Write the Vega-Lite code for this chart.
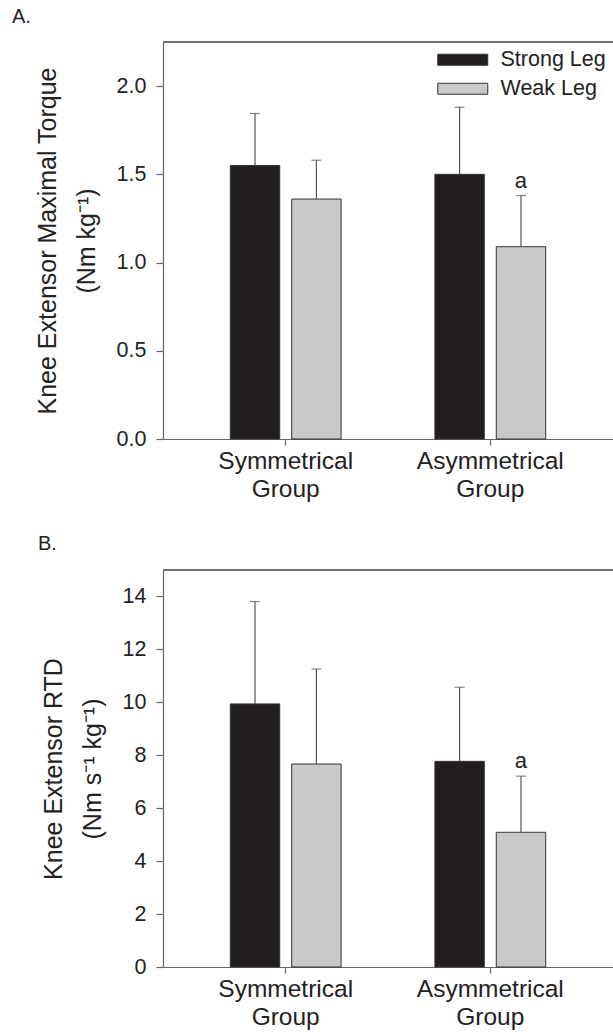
{
  "$schema": "https://vega.github.io/schema/vega-lite/v6.json",
  "background": "white",
  "padding": {"left": 12, "top": 7, "right": 0, "bottom": 4},
  "bounds": "flush",
  "spacing": 131,
  "config": {
    "font": "Liberation Sans",
    "view": {"stroke": null},
    "axis": {"domainColor": "#666666", "tickColor": "#666666", "labelColor": "#222222", "titleColor": "#222222", "labelFont": "Liberation Sans", "titleFont": "Liberation Sans", "grid": false, "titleFontWeight": "normal", "domainWidth": 1.2, "tickWidth": 1.2},
    "title": {"font": "Liberation Sans", "fontSize": 20, "fontWeight": "normal", "color": "#222222", "anchor": "start", "frame": "group", "baseline": "alphabetic"},
    "legend": {"labelFont": "Liberation Sans"}
  },
  "vconcat": [
    {
      "title": {"text": "A.", "dx": -151, "offset": 14},
      "width": 450,
      "height": 397,
      "data": {"values": [
        {"group": "Symmetrical Group", "leg": "Strong Leg", "mean": 1.55, "upper": 1.845, "note": ""},
        {"group": "Symmetrical Group", "leg": "Weak Leg", "mean": 1.36, "upper": 1.58, "note": ""},
        {"group": "Asymmetrical Group", "leg": "Strong Leg", "mean": 1.5, "upper": 1.88, "note": ""},
        {"group": "Asymmetrical Group", "leg": "Weak Leg", "mean": 1.09, "upper": 1.38, "note": "a"}
      ]},
      "layer": [
        {
          "mark": {"type": "rule", "color": "#666666", "strokeWidth": 1.2},
          "encoding": {"y": {"datum": 2.25, "type": "quantitative"}}
        },
        {
          "mark": {"type": "bar", "stroke": "#333333", "strokeWidth": 1},
          "encoding": {
            "x": {"field": "group", "type": "nominal", "sort": ["Symmetrical Group", "Asymmetrical Group"], "scale": {"paddingInner": 0.4585, "paddingOuter": 0.329}, "axis": {"title": null, "labelExpr": "split(datum.value, ' ')", "labelAngle": 0, "labelFontSize": 24.5, "labelLineHeight": 28, "tickSize": 6, "labelPadding": 4}},
            "xOffset": {"field": "leg", "type": "nominal", "sort": ["Strong Leg", "Weak Leg"], "scale": {"paddingInner": 0.195, "paddingOuter": 0}},
            "y": {"field": "mean", "type": "quantitative", "scale": {"domain": [0, 2.25], "nice": false, "zero": true}, "axis": {"title": ["Knee Extensor Maximal Torque", "(Nm kg\u207b\u00b9)"], "values": [0, 0.5, 1, 1.5, 2], "format": ".1f", "labelFontSize": 21.5, "titleFontSize": 25, "titleLineHeight": 39, "tickSize": 7, "labelPadding": 10, "titlePadding": 17}},
            "color": {"field": "leg", "type": "nominal", "scale": {"domain": ["Strong Leg", "Weak Leg"], "range": ["#231f20", "#c8c9cb"]}, "legend": {"title": null, "orient": "none", "legendX": 289, "legendY": 7, "symbolType": "M-2.5,-0.55H2.5V0.55H-2.5Z", "symbolSize": 400, "symbolStrokeColor": "#333333", "symbolStrokeWidth": 1, "labelFontSize": 21.5, "labelColor": "#222222", "labelOffset": 27, "rowPadding": 6, "padding": 0}}
          }
        },
        {
          "mark": {"type": "rule", "color": "#555555", "strokeWidth": 1.2},
          "encoding": {
            "x": {"field": "group", "type": "nominal", "sort": ["Symmetrical Group", "Asymmetrical Group"]},
            "xOffset": {"field": "leg", "type": "nominal", "sort": ["Strong Leg", "Weak Leg"]},
            "y": {"field": "mean", "type": "quantitative"},
            "y2": {"field": "upper"}
          }
        },
        {
          "mark": {"type": "tick", "color": "#555555", "size": 10, "thickness": 1.2, "orient": "horizontal"},
          "encoding": {
            "x": {"field": "group", "type": "nominal", "sort": ["Symmetrical Group", "Asymmetrical Group"]},
            "xOffset": {"field": "leg", "type": "nominal", "sort": ["Strong Leg", "Weak Leg"]},
            "y": {"field": "upper", "type": "quantitative"}
          }
        },
        {
          "mark": {"type": "text", "fontSize": 22, "color": "#222222", "baseline": "alphabetic", "dy": -8, "font": "Liberation Sans"},
          "encoding": {
            "x": {"field": "group", "type": "nominal", "sort": ["Symmetrical Group", "Asymmetrical Group"]},
            "xOffset": {"field": "leg", "type": "nominal", "sort": ["Strong Leg", "Weak Leg"]},
            "y": {"field": "upper", "type": "quantitative"},
            "text": {"field": "note"}
          }
        }
      ]
    },
    {
      "title": {"text": "B.", "dx": -125, "offset": 15},
      "width": 450,
      "height": 397,
      "data": {"values": [
        {"group": "Symmetrical Group", "leg": "Strong Leg", "mean": 9.94, "upper": 13.81, "note": ""},
        {"group": "Symmetrical Group", "leg": "Weak Leg", "mean": 7.67, "upper": 11.26, "note": ""},
        {"group": "Asymmetrical Group", "leg": "Strong Leg", "mean": 7.77, "upper": 10.57, "note": ""},
        {"group": "Asymmetrical Group", "leg": "Weak Leg", "mean": 5.09, "upper": 7.21, "note": "a"}
      ]},
      "layer": [
        {
          "mark": {"type": "rule", "color": "#666666", "strokeWidth": 1.2},
          "encoding": {"y": {"datum": 15, "type": "quantitative"}}
        },
        {
          "mark": {"type": "bar", "stroke": "#333333", "strokeWidth": 1},
          "encoding": {
            "x": {"field": "group", "type": "nominal", "sort": ["Symmetrical Group", "Asymmetrical Group"], "scale": {"paddingInner": 0.4585, "paddingOuter": 0.329}, "axis": {"title": null, "labelExpr": "split(datum.value, ' ')", "labelAngle": 0, "labelFontSize": 24.5, "labelLineHeight": 28, "tickSize": 6, "labelPadding": 4}},
            "xOffset": {"field": "leg", "type": "nominal", "sort": ["Strong Leg", "Weak Leg"], "scale": {"paddingInner": 0.195, "paddingOuter": 0}},
            "y": {"field": "mean", "type": "quantitative", "scale": {"domain": [0, 15], "nice": false, "zero": true}, "axis": {"title": ["Knee Extensor RTD", "(Nm s\u207b\u00b9 kg\u207b\u00b9)"], "values": [0, 2, 4, 6, 8, 10, 12, 14], "format": "d", "labelFontSize": 21.5, "titleFontSize": 25, "titleLineHeight": 39, "tickSize": 7, "labelPadding": 10, "titlePadding": 17}},
            "color": {"field": "leg", "type": "nominal", "scale": {"domain": ["Strong Leg", "Weak Leg"], "range": ["#231f20", "#c8c9cb"]}, "legend": {"title": null, "orient": "none", "legendX": 289, "legendY": 7, "symbolType": "M-2.5,-0.55H2.5V0.55H-2.5Z", "symbolSize": 400, "symbolStrokeColor": "#333333", "symbolStrokeWidth": 1, "labelFontSize": 21.5, "labelColor": "#222222", "labelOffset": 27, "rowPadding": 6, "padding": 0}}
          }
        },
        {
          "mark": {"type": "rule", "color": "#555555", "strokeWidth": 1.2},
          "encoding": {
            "x": {"field": "group", "type": "nominal", "sort": ["Symmetrical Group", "Asymmetrical Group"]},
            "xOffset": {"field": "leg", "type": "nominal", "sort": ["Strong Leg", "Weak Leg"]},
            "y": {"field": "mean", "type": "quantitative"},
            "y2": {"field": "upper"}
          }
        },
        {
          "mark": {"type": "tick", "color": "#555555", "size": 10, "thickness": 1.2, "orient": "horizontal"},
          "encoding": {
            "x": {"field": "group", "type": "nominal", "sort": ["Symmetrical Group", "Asymmetrical Group"]},
            "xOffset": {"field": "leg", "type": "nominal", "sort": ["Strong Leg", "Weak Leg"]},
            "y": {"field": "upper", "type": "quantitative"}
          }
        },
        {
          "mark": {"type": "text", "fontSize": 22, "color": "#222222", "baseline": "alphabetic", "dy": -8, "font": "Liberation Sans"},
          "encoding": {
            "x": {"field": "group", "type": "nominal", "sort": ["Symmetrical Group", "Asymmetrical Group"]},
            "xOffset": {"field": "leg", "type": "nominal", "sort": ["Strong Leg", "Weak Leg"]},
            "y": {"field": "upper", "type": "quantitative"},
            "text": {"field": "note"}
          }
        }
      ]
    }
  ]
}
